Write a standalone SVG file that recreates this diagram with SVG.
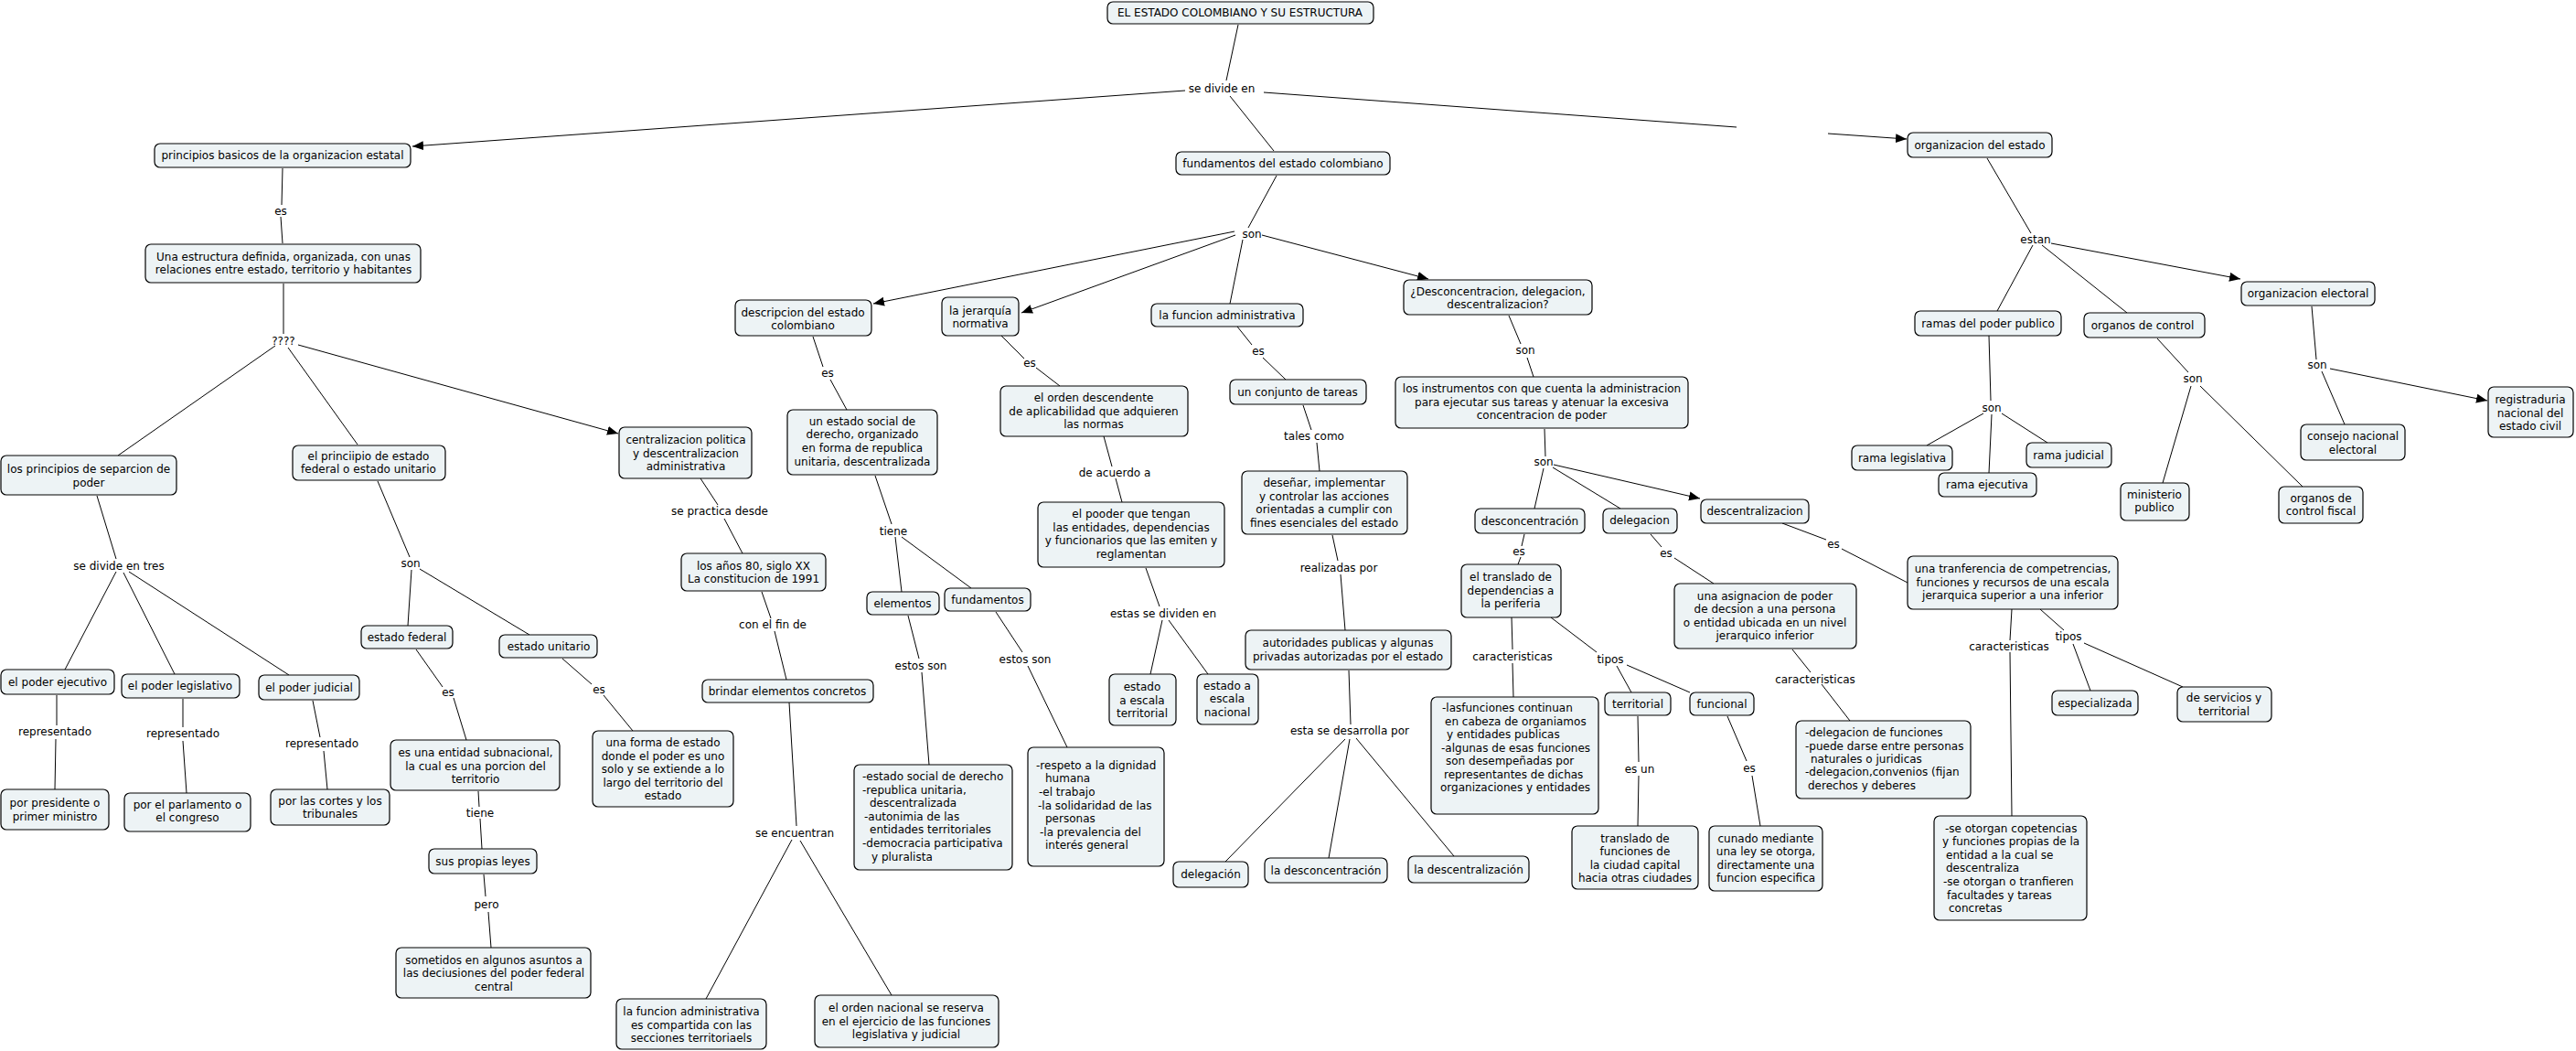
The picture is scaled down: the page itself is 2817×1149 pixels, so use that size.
<svg xmlns="http://www.w3.org/2000/svg" width="2817" height="1149" viewBox="0 0 2817 1149">
<style>
rect{fill:#edf3f5;stroke:#000;stroke-width:1.2}
text{font-family:"DejaVu Sans",Verdana,sans-serif;font-size:12px;fill:#000}
.c{text-anchor:middle}
.l{text-anchor:start}
#connectors line{stroke:#000;stroke-width:1;fill:none}
#connectors line.a{marker-end:url(#arr)}
</style>
<defs>
<marker id="arr" markerUnits="userSpaceOnUse" markerWidth="13" markerHeight="11" refX="12" refY="5" orient="auto">
<path d="M0,0 L12,5 L0,10 z" fill="#000"/>
</marker>
</defs>
<rect x="0" y="0" width="2817" height="1149" style="fill:#fff;stroke:none"/>
<g id="connectors">
<line x1="1354" y1="27" x2="1341" y2="88"/>
<line class="a" x1="1296" y1="99" x2="451" y2="160"/>
<line x1="1345" y1="105" x2="1393" y2="165"/>
<line x1="1382" y1="101" x2="1899" y2="139"/>
<line class="a" x1="1999" y1="146" x2="2085" y2="152"/>
<line x1="309" y1="184" x2="308" y2="224"/>
<line x1="307" y1="237" x2="309" y2="266"/>
<line x1="310" y1="310" x2="310" y2="365"/>
<line x1="301" y1="378" x2="129" y2="498"/>
<line x1="315" y1="380" x2="391" y2="486"/>
<line class="a" x1="326" y1="377" x2="676" y2="474"/>
<line x1="106" y1="542" x2="127" y2="611"/>
<line x1="127" y1="625" x2="71" y2="732"/>
<line x1="135" y1="626" x2="191" y2="737"/>
<line x1="141" y1="625" x2="316" y2="738"/>
<line x1="62" y1="760" x2="62" y2="793"/>
<line x1="61" y1="808" x2="60" y2="863"/>
<line x1="200" y1="764" x2="200" y2="795"/>
<line x1="200" y1="810" x2="204" y2="867"/>
<line x1="342" y1="766" x2="350" y2="806"/>
<line x1="354" y1="821" x2="358" y2="863"/>
<line x1="413" y1="526" x2="448" y2="609"/>
<line x1="450" y1="623" x2="446" y2="684"/>
<line x1="459" y1="622" x2="579" y2="694"/>
<line x1="455" y1="710" x2="484" y2="751"/>
<line x1="496" y1="763" x2="510" y2="809"/>
<line x1="615" y1="720" x2="647" y2="748"/>
<line x1="660" y1="760" x2="692" y2="799"/>
<line x1="523" y1="865" x2="524" y2="882"/>
<line x1="525" y1="895" x2="527" y2="928"/>
<line x1="529" y1="956" x2="531" y2="980"/>
<line x1="534" y1="997" x2="537" y2="1036"/>
<line x1="1396" y1="192" x2="1365" y2="249"/>
<line class="a" x1="1350" y1="253" x2="955" y2="332"/>
<line class="a" x1="1351" y1="257" x2="1117" y2="342"/>
<line x1="1359" y1="262" x2="1345" y2="332"/>
<line class="a" x1="1380" y1="257" x2="1562" y2="305"/>
<line x1="889" y1="368" x2="900" y2="401"/>
<line x1="908" y1="415" x2="926" y2="448"/>
<line x1="1095" y1="367" x2="1120" y2="392"/>
<line x1="1133" y1="402" x2="1159" y2="422"/>
<line x1="1353" y1="357" x2="1369" y2="377"/>
<line x1="1381" y1="391" x2="1406" y2="415"/>
<line x1="1650" y1="345" x2="1663" y2="376"/>
<line x1="1670" y1="391" x2="1677" y2="412"/>
<line x1="766" y1="523" x2="785" y2="552"/>
<line x1="792" y1="567" x2="812" y2="605"/>
<line x1="833" y1="647" x2="843" y2="676"/>
<line x1="847" y1="690" x2="860" y2="743"/>
<line x1="863" y1="768" x2="871" y2="903"/>
<line x1="866" y1="918" x2="772" y2="1092"/>
<line x1="875" y1="919" x2="975" y2="1088"/>
<line x1="957" y1="520" x2="975" y2="573"/>
<line x1="979" y1="587" x2="986" y2="647"/>
<line x1="986" y1="587" x2="1062" y2="643"/>
<line x1="993" y1="673" x2="1005" y2="720"/>
<line x1="1008" y1="735" x2="1016" y2="836"/>
<line x1="1089" y1="669" x2="1118" y2="713"/>
<line x1="1124" y1="728" x2="1167" y2="817"/>
<line x1="1207" y1="477" x2="1216" y2="510"/>
<line x1="1220" y1="523" x2="1227" y2="549"/>
<line x1="1253" y1="621" x2="1268" y2="663"/>
<line x1="1271" y1="678" x2="1258" y2="737"/>
<line x1="1278" y1="678" x2="1321" y2="737"/>
<line x1="1425" y1="443" x2="1434" y2="470"/>
<line x1="1440" y1="484" x2="1443" y2="515"/>
<line x1="1457" y1="585" x2="1463" y2="613"/>
<line x1="1466" y1="628" x2="1471" y2="689"/>
<line x1="1475" y1="733" x2="1477" y2="792"/>
<line x1="1471" y1="808" x2="1340" y2="942"/>
<line x1="1476" y1="808" x2="1453" y2="938"/>
<line x1="1483" y1="807" x2="1590" y2="936"/>
<line x1="1689" y1="469" x2="1690" y2="499"/>
<line x1="1688" y1="512" x2="1678" y2="556"/>
<line x1="1698" y1="511" x2="1772" y2="556"/>
<line class="a" x1="1699" y1="508" x2="1859" y2="545"/>
<line x1="1667" y1="584" x2="1664" y2="597"/>
<line x1="1663" y1="609" x2="1660" y2="617"/>
<line x1="1805" y1="584" x2="1817" y2="598"/>
<line x1="1831" y1="610" x2="1874" y2="638"/>
<line x1="1949" y1="572" x2="1997" y2="590"/>
<line x1="2014" y1="600" x2="2086" y2="637"/>
<line x1="1653" y1="675" x2="1654" y2="710"/>
<line x1="1654" y1="725" x2="1655" y2="762"/>
<line x1="1696" y1="675" x2="1746" y2="713"/>
<line x1="1768" y1="728" x2="1784" y2="757"/>
<line x1="1779" y1="727" x2="1848" y2="757"/>
<line x1="1791" y1="783" x2="1792" y2="833"/>
<line x1="1792" y1="848" x2="1791" y2="903"/>
<line x1="1889" y1="783" x2="1910" y2="832"/>
<line x1="1916" y1="848" x2="1925" y2="903"/>
<line x1="1960" y1="710" x2="1980" y2="735"/>
<line x1="1992" y1="748" x2="2023" y2="788"/>
<line x1="2200" y1="666" x2="2198" y2="700"/>
<line x1="2198" y1="713" x2="2200" y2="892"/>
<line x1="2231" y1="666" x2="2257" y2="689"/>
<line x1="2267" y1="704" x2="2286" y2="755"/>
<line x1="2279" y1="703" x2="2387" y2="751"/>
<line x1="2173" y1="173" x2="2221" y2="255"/>
<line x1="2223" y1="268" x2="2184" y2="340"/>
<line x1="2233" y1="268" x2="2326" y2="342"/>
<line class="a" x1="2243" y1="266" x2="2450" y2="305"/>
<line x1="2175" y1="367" x2="2177" y2="438"/>
<line x1="2169" y1="452" x2="2107" y2="487"/>
<line x1="2178" y1="453" x2="2175" y2="517"/>
<line x1="2189" y1="452" x2="2239" y2="484"/>
<line x1="2359" y1="370" x2="2393" y2="407"/>
<line x1="2396" y1="422" x2="2365" y2="528"/>
<line x1="2406" y1="422" x2="2518" y2="532"/>
<line x1="2528" y1="335" x2="2533" y2="393"/>
<line x1="2539" y1="406" x2="2564" y2="464"/>
<line class="a" x1="2548" y1="403" x2="2720" y2="438"/>
</g>
<g id="labels" class="c">
<text class="c" x="1336" y="101">se divide en</text>
<text class="c" x="307" y="235">es</text>
<text class="c" x="310" y="377">????</text>
<text class="c" x="130" y="623">se divide en tres</text>
<text class="c" x="60" y="804">representado</text>
<text class="c" x="200" y="806">representado</text>
<text class="c" x="352" y="817">representado</text>
<text class="c" x="449" y="620">son</text>
<text class="c" x="490" y="761">es</text>
<text class="c" x="655" y="758">es</text>
<text class="c" x="525" y="893">tiene</text>
<text class="c" x="532" y="993">pero</text>
<text class="c" x="1369" y="260">son</text>
<text class="c" x="905" y="412">es</text>
<text class="c" x="1126" y="401">es</text>
<text class="c" x="1376" y="388">es</text>
<text class="c" x="1668" y="387">son</text>
<text class="c" x="787" y="563">se practica desde</text>
<text class="c" x="977" y="585">tiene</text>
<text class="c" x="1219" y="521">de acuerdo a</text>
<text class="c" x="1437" y="481">tales como</text>
<text class="c" x="1688" y="509">son</text>
<text class="c" x="845" y="687">con el fin de</text>
<text class="c" x="1007" y="732">estos son</text>
<text class="c" x="1121" y="725">estos son</text>
<text class="c" x="1272" y="675">estas se dividen en</text>
<text class="c" x="1464" y="625">realizadas por</text>
<text class="c" x="1661" y="607">es</text>
<text class="c" x="1822" y="609">es</text>
<text class="c" x="2005" y="599">es</text>
<text class="c" x="869" y="915">se encuentran</text>
<text class="c" x="1476" y="803">esta se desarrolla por</text>
<text class="c" x="1654" y="722">caracteristicas</text>
<text class="c" x="1761" y="725">tipos</text>
<text class="c" x="1793" y="845">es un</text>
<text class="c" x="1913" y="844">es</text>
<text class="c" x="1985" y="747">caracteristicas</text>
<text class="c" x="2197" y="711">caracteristicas</text>
<text class="c" x="2262" y="700">tipos</text>
<text class="c" x="2226" y="266">estan</text>
<text class="c" x="2178" y="450">son</text>
<text class="c" x="2398" y="418">son</text>
<text class="c" x="2534" y="403">son</text>
</g>
<g id="n-title"><rect x="1211" y="2" width="291" height="24" rx="6"/><text class="c" x="1356" y="18">EL ESTADO COLOMBIANO Y SU ESTRUCTURA</text></g>
<g id="n-principios"><rect x="169" y="157" width="280" height="26" rx="6"/><text class="c" x="309" y="174">principios basicos de la organizacion estatal</text></g>
<g id="n-estructura"><rect x="159" y="267" width="301" height="42" rx="6"/><text class="c"><tspan x="310" y="285">Una estructura definida, organizada, con unas</tspan><tspan x="310" y="299">relaciones entre estado, territorio y habitantes</tspan></text></g>
<g id="n-separcion"><rect x="1" y="498" width="192" height="43" rx="6"/><text class="c"><tspan x="97" y="517">los principios de separcion de</tspan><tspan x="97" y="532">poder</tspan></text></g>
<g id="n-principio-federal"><rect x="320" y="487" width="167" height="38" rx="6"/><text class="c"><tspan x="403" y="503">el princiipio de estado</tspan><tspan x="403" y="517">federal o estado unitario</tspan></text></g>
<g id="n-centralizacion"><rect x="677" y="467" width="145" height="56" rx="6"/><text class="c"><tspan x="750" y="485">centralizacion politica</tspan><tspan x="750" y="500">y descentralizacion</tspan><tspan x="750" y="514">administrativa</tspan></text></g>
<g id="n-ejecutivo"><rect x="1" y="732" width="124" height="27" rx="6"/><text class="c" x="63" y="750">el poder ejecutivo</text></g>
<g id="n-legislativo"><rect x="133" y="737" width="129" height="26" rx="6"/><text class="c" x="197" y="754">el poder legislativo</text></g>
<g id="n-judicial"><rect x="283" y="738" width="110" height="27" rx="6"/><text class="c" x="338" y="756">el poder judicial</text></g>
<g id="n-presidente"><rect x="1" y="863" width="118" height="44" rx="6"/><text class="c"><tspan x="60" y="882">por presidente o</tspan><tspan x="60" y="897">primer ministro</tspan></text></g>
<g id="n-parlamento"><rect x="136" y="867" width="138" height="42" rx="6"/><text class="c"><tspan x="205" y="884">por el parlamento o</tspan><tspan x="205" y="898">el congreso</tspan></text></g>
<g id="n-cortes"><rect x="296" y="863" width="130" height="39" rx="6"/><text class="c"><tspan x="361" y="880">por las cortes y los</tspan><tspan x="361" y="894">tribunales</tspan></text></g>
<g id="n-federal"><rect x="395" y="684" width="100" height="25" rx="6"/><text class="c" x="445" y="701">estado federal</text></g>
<g id="n-unitario"><rect x="546" y="694" width="107" height="25" rx="6"/><text class="c" x="600" y="711">estado unitario</text></g>
<g id="n-subnacional"><rect x="427" y="809" width="185" height="55" rx="6"/><text class="c"><tspan x="520" y="827">es una entidad subnacional,</tspan><tspan x="520" y="842">la cual es una porcion del</tspan><tspan x="520" y="856">territorio</tspan></text></g>
<g id="n-forma"><rect x="648" y="799" width="154" height="83" rx="6"/><text class="c"><tspan x="725" y="816">una forma de estado</tspan><tspan x="725" y="831">donde el poder es uno</tspan><tspan x="725" y="845">solo y se extiende a lo</tspan><tspan x="725" y="860">largo del territorio del</tspan><tspan x="725" y="874">estado</tspan></text></g>
<g id="n-leyes"><rect x="469" y="928" width="118" height="27" rx="6"/><text class="c" x="528" y="946">sus propias leyes</text></g>
<g id="n-sometidos"><rect x="433" y="1036" width="213" height="55" rx="6"/><text class="c"><tspan x="540" y="1054">sometidos en algunos asuntos a</tspan><tspan x="540" y="1068">las deciusiones del poder federal</tspan><tspan x="540" y="1083">central</tspan></text></g>
<g id="n-descripcion"><rect x="804" y="328" width="149" height="39" rx="6"/><text class="c"><tspan x="878" y="346">descripcion del estado</tspan><tspan x="878" y="360">colombiano</tspan></text></g>
<g id="n-jerarquia"><rect x="1030" y="325" width="84" height="42" rx="6"/><text class="c"><tspan x="1072" y="344">la jerarquía</tspan><tspan x="1072" y="358">normativa</tspan></text></g>
<g id="n-funcion-admin"><rect x="1259" y="332" width="166" height="25" rx="6"/><text class="c" x="1342" y="349">la funcion administrativa</text></g>
<g id="n-desconc-q"><rect x="1535" y="306" width="206" height="38" rx="6"/><text class="c"><tspan x="1638" y="323">¿Desconcentracion, delegacion,</tspan><tspan x="1638" y="337">descentralizacion?</tspan></text></g>
<g id="n-fundamentos-ec"><rect x="1286" y="166" width="234" height="25" rx="6"/><text class="c" x="1403" y="183">fundamentos del estado colombiano</text></g>
<g id="n-org-estado"><rect x="2086" y="145" width="158" height="27" rx="6"/><text class="c" x="2165" y="163">organizacion del estado</text></g>
<g id="n-un-estado"><rect x="861" y="448" width="164" height="71" rx="6"/><text class="c"><tspan x="943" y="465">un estado social de</tspan><tspan x="943" y="479">derecho, organizado</tspan><tspan x="943" y="494">en forma de republica</tspan><tspan x="943" y="509">unitaria, descentralizada</tspan></text></g>
<g id="n-anos80"><rect x="745" y="605" width="158" height="41" rx="6"/><text class="c"><tspan x="824" y="623">los años 80, siglo XX</tspan><tspan x="824" y="637">La constitucion de 1991</tspan></text></g>
<g id="n-brindar"><rect x="768" y="743" width="187" height="25" rx="6"/><text class="c" x="861" y="760">brindar elementos concretos</text></g>
<g id="n-compartida"><rect x="674" y="1092" width="164" height="55" rx="6"/><text class="c"><tspan x="756" y="1110">la funcion administrativa</tspan><tspan x="756" y="1125">es compartida con las</tspan><tspan x="756" y="1139">secciones territoriaels</tspan></text></g>
<g id="n-orden-nacional"><rect x="891" y="1088" width="201" height="57" rx="6"/><text class="c"><tspan x="991" y="1106">el orden nacional se reserva</tspan><tspan x="991" y="1121">en el ejercicio de las funciones</tspan><tspan x="991" y="1135">legislativa y judicial</tspan></text></g>
<g id="n-elementos"><rect x="948" y="647" width="79" height="25" rx="6"/><text class="c" x="987" y="664">elementos</text></g>
<g id="n-fundamentos"><rect x="1033" y="643" width="94" height="25" rx="6"/><text class="c" x="1080" y="660">fundamentos</text></g>
<g id="n-estado-social"><rect x="934" y="836" width="173" height="115" rx="6"/><text class="l"><tspan x="943" y="853">-estado social de derecho</tspan><tspan x="943" y="868">-republica unitaria,</tspan><tspan x="951" y="882">descentralizada</tspan><tspan x="945" y="897">-autonimia de las</tspan><tspan x="951" y="911">entidades territoriales</tspan><tspan x="943" y="926">-democracia participativa</tspan><tspan x="953" y="941">y pluralista</tspan></text></g>
<g id="n-respeto"><rect x="1124" y="817" width="149" height="130" rx="6"/><text class="l"><tspan x="1133" y="841">-respeto a la dignidad</tspan><tspan x="1143" y="855">humana</tspan><tspan x="1136" y="870">-el trabajo</tspan><tspan x="1135" y="885">-la solidaridad de las</tspan><tspan x="1143" y="899">personas</tspan><tspan x="1137" y="914">-la prevalencia del</tspan><tspan x="1143" y="928">interés general</tspan></text></g>
<g id="n-orden-desc"><rect x="1094" y="422" width="205" height="55" rx="6"/><text class="c"><tspan x="1196" y="439">el orden descendente</tspan><tspan x="1196" y="454">de aplicabilidad que adquieren</tspan><tspan x="1196" y="468">las normas</tspan></text></g>
<g id="n-pooder"><rect x="1135" y="549" width="204" height="71" rx="6"/><text class="c"><tspan x="1237" y="566">el pooder que tengan</tspan><tspan x="1237" y="581">las entidades, dependencias</tspan><tspan x="1237" y="595">y funcionarios que las emiten y</tspan><tspan x="1237" y="610">reglamentan</tspan></text></g>
<g id="n-escala-terr"><rect x="1213" y="737" width="73" height="56" rx="6"/><text class="c"><tspan x="1249" y="755">estado</tspan><tspan x="1249" y="770">a escala</tspan><tspan x="1249" y="784">territorial</tspan></text></g>
<g id="n-escala-nac"><rect x="1309" y="737" width="67" height="55" rx="6"/><text class="c"><tspan x="1342" y="754">estado a</tspan><tspan x="1342" y="768">escala</tspan><tspan x="1342" y="783">nacional</tspan></text></g>
<g id="n-conjunto"><rect x="1345" y="415" width="149" height="27" rx="6"/><text class="c" x="1419" y="433">un conjunto de tareas</text></g>
<g id="n-disenar"><rect x="1358" y="515" width="181" height="69" rx="6"/><text class="c"><tspan x="1448" y="532">deseñar, implementar</tspan><tspan x="1448" y="547">y controlar las acciones</tspan><tspan x="1448" y="561">orientadas a cumplir con</tspan><tspan x="1448" y="576">fines esenciales del estado</tspan></text></g>
<g id="n-autoridades"><rect x="1362" y="689" width="225" height="43" rx="6"/><text class="c"><tspan x="1474" y="707">autoridades publicas y algunas</tspan><tspan x="1474" y="722">privadas autorizadas por el estado</tspan></text></g>
<g id="n-delegacion2"><rect x="1283" y="942" width="82" height="28" rx="6"/><text class="c" x="1324" y="960">delegación</text></g>
<g id="n-desconcentracion2"><rect x="1383" y="938" width="134" height="27" rx="6"/><text class="c" x="1450" y="956">la desconcentración</text></g>
<g id="n-descentralizacion2"><rect x="1540" y="936" width="132" height="29" rx="6"/><text class="c" x="1606" y="955">la descentralización</text></g>
<g id="n-instrumentos"><rect x="1526" y="412" width="320" height="56" rx="6"/><text class="c"><tspan x="1686" y="429">los instrumentos con que cuenta la administracion</tspan><tspan x="1686" y="444">para ejecutar sus tareas y atenuar la excesiva</tspan><tspan x="1686" y="458">concentracion de poder</tspan></text></g>
<g id="n-desconcentracion"><rect x="1613" y="556" width="120" height="27" rx="6"/><text class="c" x="1673" y="574">desconcentración</text></g>
<g id="n-delegacion"><rect x="1753" y="556" width="81" height="27" rx="6"/><text class="c" x="1793" y="573">delegacion</text></g>
<g id="n-descentralizacion"><rect x="1860" y="546" width="118" height="26" rx="6"/><text class="c" x="1919" y="563">descentralizacion</text></g>
<g id="n-translado-periferia"><rect x="1598" y="617" width="109" height="58" rx="6"/><text class="c"><tspan x="1652" y="635">el translado de</tspan><tspan x="1652" y="650">dependencias a</tspan><tspan x="1652" y="664">la periferia</tspan></text></g>
<g id="n-asignacion"><rect x="1831" y="638" width="199" height="71" rx="6"/><text class="c"><tspan x="1930" y="656">una asignacion de poder</tspan><tspan x="1930" y="670">de decsion a una persona</tspan><tspan x="1930" y="685">o entidad ubicada en un nivel</tspan><tspan x="1930" y="699">jerarquico inferior</tspan></text></g>
<g id="n-tranferencia"><rect x="2086" y="608" width="230" height="58" rx="6"/><text class="c"><tspan x="2201" y="626">una tranferencia de competrencias,</tspan><tspan x="2201" y="641">funciones y recursos de una escala</tspan><tspan x="2201" y="655">jerarquica superior a una inferior</tspan></text></g>
<g id="n-lasfunciones"><rect x="1565" y="762" width="183" height="128" rx="6"/><text class="l"><tspan x="1577" y="778">-lasfunciones continuan</tspan><tspan x="1580" y="793">en cabeza de organiamos</tspan><tspan x="1582" y="807">y entidades publicas</tspan><tspan x="1576" y="822">-algunas de esas funciones</tspan><tspan x="1581" y="836">son desempeñadas por</tspan><tspan x="1579" y="851">representantes de dichas</tspan><tspan x="1575" y="865">organizaciones y entidades</tspan></text></g>
<g id="n-territorial"><rect x="1755" y="757" width="72" height="25" rx="6"/><text class="c" x="1791" y="774">territorial</text></g>
<g id="n-funcional"><rect x="1848" y="757" width="70" height="25" rx="6"/><text class="c" x="1883" y="774">funcional</text></g>
<g id="n-translado-funciones"><rect x="1719" y="903" width="138" height="69" rx="6"/><text class="c"><tspan x="1788" y="921">translado de</tspan><tspan x="1788" y="935">funciones de</tspan><tspan x="1788" y="950">la ciudad capital</tspan><tspan x="1788" y="964">hacia otras ciudades</tspan></text></g>
<g id="n-cunado"><rect x="1869" y="903" width="124" height="71" rx="6"/><text class="c"><tspan x="1931" y="921">cunado mediante</tspan><tspan x="1931" y="935">una ley se otorga,</tspan><tspan x="1931" y="950">directamente una</tspan><tspan x="1931" y="964">funcion especifica</tspan></text></g>
<g id="n-delegacion-funciones"><rect x="1964" y="788" width="191" height="85" rx="6"/><text class="l"><tspan x="1974" y="805">-delegacion de funciones</tspan><tspan x="1974" y="820">-puede darse entre personas</tspan><tspan x="1980" y="834">naturales o juridicas</tspan><tspan x="1974" y="848">-delegacion,convenios (fijan</tspan><tspan x="1977" y="863">derechos y deberes</tspan></text></g>
<g id="n-especializada"><rect x="2244" y="755" width="94" height="27" rx="6"/><text class="c" x="2291" y="773">especializada</text></g>
<g id="n-servicios"><rect x="2381" y="751" width="103" height="38" rx="6"/><text class="c"><tspan x="2432" y="767">de servicios y</tspan><tspan x="2432" y="782">territorial</tspan></text></g>
<g id="n-otorgan"><rect x="2115" y="892" width="167" height="114" rx="6"/><text class="l"><tspan x="2127" y="910">-se otorgan copetencias</tspan><tspan x="2124" y="924">y funciones propias de la</tspan><tspan x="2128" y="939">entidad a la cual se</tspan><tspan x="2128" y="953">descentraliza</tspan><tspan x="2125" y="968">-se otorgan o tranfieren</tspan><tspan x="2129" y="983">facultades y tareas</tspan><tspan x="2131" y="997">concretas</tspan></text></g>
<g id="n-ramas"><rect x="2094" y="340" width="160" height="27" rx="6"/><text class="c" x="2174" y="358">ramas del poder publico</text></g>
<g id="n-organos-control"><rect x="2279" y="342" width="132" height="27" rx="6"/><text class="c" x="2343" y="360">organos de control</text></g>
<g id="n-org-electoral"><rect x="2451" y="308" width="146" height="26" rx="6"/><text class="c" x="2524" y="325">organizacion electoral</text></g>
<g id="n-rama-leg"><rect x="2025" y="487" width="110" height="27" rx="6"/><text class="c" x="2080" y="505">rama legislativa</text></g>
<g id="n-rama-ej"><rect x="2120" y="517" width="107" height="26" rx="6"/><text class="c" x="2173" y="534">rama ejecutiva</text></g>
<g id="n-rama-jud"><rect x="2216" y="484" width="93" height="27" rx="6"/><text class="c" x="2262" y="502">rama judicial</text></g>
<g id="n-ministerio"><rect x="2319" y="528" width="75" height="41" rx="6"/><text class="c"><tspan x="2356" y="545">ministerio</tspan><tspan x="2356" y="559">publico</tspan></text></g>
<g id="n-organos-fiscal"><rect x="2492" y="532" width="92" height="40" rx="6"/><text class="c"><tspan x="2538" y="549">organos de</tspan><tspan x="2538" y="563">control fiscal</tspan></text></g>
<g id="n-consejo"><rect x="2516" y="464" width="114" height="39" rx="6"/><text class="c"><tspan x="2573" y="481">consejo nacional</tspan><tspan x="2573" y="496">electoral</tspan></text></g>
<g id="n-registraduria"><rect x="2721" y="423" width="93" height="55" rx="6"/><text class="c"><tspan x="2767" y="441">registraduria</tspan><tspan x="2767" y="456">nacional del</tspan><tspan x="2767" y="470">estado civil</tspan></text></g>
</svg>
